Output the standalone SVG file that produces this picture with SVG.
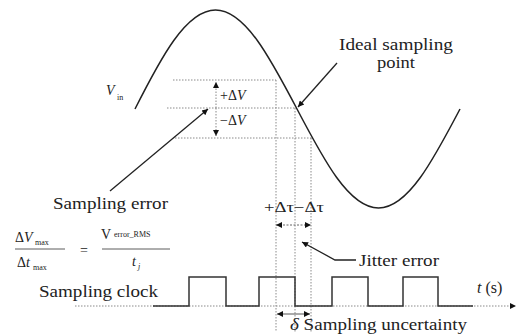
<svg xmlns="http://www.w3.org/2000/svg" width="522" height="334" viewBox="0 0 522 334">
<defs>
<style>
.t{font-family:"Liberation Serif","Times New Roman",serif;font-size:16px;fill:#222}
.m{font-family:"Liberation Serif","Times New Roman",serif;font-size:14px;fill:#222}
.s{font-family:"Liberation Serif","Times New Roman",serif;font-size:8px;fill:#222}
.i{font-style:italic}
.dash{stroke:#8a8a8a;stroke-width:1;stroke-dasharray:1.5 1.5;fill:none}
.ln{stroke:#222;stroke-width:1.3;fill:none}
</style>
<marker id="ah" viewBox="0 0 10 10" refX="10" refY="5" markerWidth="8" markerHeight="6" markerUnits="userSpaceOnUse" orient="auto-start-reverse">
<path d="M0,0 L10,5 L0,10 z" fill="#111"/>
</marker>
</defs>
<g id="guides">
<path class="dash" d="M173,80 H276 M167,108 H297 M175,138 H312"/>
<path class="dash" stroke="#aaa" d="M276,80 V332 M295,108 V332 M311,138 V332"/>
</g>
<g id="signal">
<path stroke="#222" stroke-width="1.5" fill="none" d="M135,109 C160.6,58.3 186,10 215.5,10 C245,10 270.4,58.3 297,109 C323.6,159.7 349,208 378.5,208 C408,208 433.4,159.7 460,109"/>
<text class="m i" x="106" y="95">V</text><text class="s" x="117" y="100">in</text>
</g>
<g id="connectors">
<line x1="216" y1="108" x2="216" y2="82" stroke="#888" stroke-width="1" stroke-dasharray="1.5 1.5" marker-end="url(#ah)"/>
<line x1="216" y1="108" x2="216" y2="136" stroke="#888" stroke-width="1" stroke-dasharray="1.5 1.5" marker-end="url(#ah)"/>
<line class="ln" x1="110" y1="191" x2="208" y2="109" marker-end="url(#ah)"/>
<line class="ln" x1="337" y1="63" x2="298" y2="107" marker-end="url(#ah)"/>
<polyline class="ln" points="356,260 335,260 302,242" marker-end="url(#ah)"/>
<line x1="276" y1="225" x2="311" y2="225" stroke="#666" stroke-width="1" stroke-dasharray="2 1.5" marker-start="url(#ah)" marker-end="url(#ah)"/>
<line x1="277" y1="314" x2="310" y2="314" stroke="#555" stroke-width="1" marker-start="url(#ah)" marker-end="url(#ah)"/>
<line x1="75" y1="306" x2="516" y2="306" class="dash" marker-end="url(#ah)"/>
</g>
<g id="deltaV">
<text class="m" x="220" y="100">+Δ<tspan class="i">V</tspan></text>
<text class="m" x="220" y="125">−Δ<tspan class="i">V</tspan></text>
</g>
<g id="ideal-label">
<text class="t" x="339" y="50" textLength="114" lengthAdjust="spacingAndGlyphs">Ideal sampling</text>
<text class="t" x="377" y="68" textLength="38" lengthAdjust="spacingAndGlyphs">point</text>
</g>
<g id="sampling-error">
<text class="t" x="53" y="209" textLength="115" lengthAdjust="spacingAndGlyphs">Sampling error</text>
</g>
<g id="formula">
<text class="m" x="15" y="242">Δ<tspan class="i">V</tspan></text><text class="s" x="35" y="245">max</text>
<line x1="15" y1="249" x2="65" y2="249" stroke="#333" stroke-width="0.8"/>
<text class="m" x="17" y="267">Δ<tspan class="i">t</tspan></text><text class="s" x="33" y="270">max</text>
<text class="m" x="80" y="255">=</text>
<text class="m" x="101" y="239">V</text><text class="s" x="114" y="237" font-size="7">error_RMS</text>
<line x1="102" y1="249" x2="170" y2="249" stroke="#333" stroke-width="0.8"/>
<text class="m i" x="132" y="266">t</text><text class="s i" x="138" y="269">j</text>
</g>
<g id="jitter">
<text class="m" x="264" y="212" textLength="60" lengthAdjust="spacingAndGlyphs">+Δτ−Δτ</text>
<text class="t" x="359" y="266" textLength="80" lengthAdjust="spacingAndGlyphs">Jitter error</text>
</g>
<g id="clock">
<text class="t" x="39" y="297" textLength="119" lengthAdjust="spacingAndGlyphs">Sampling clock</text>
<path stroke="#333" stroke-width="1.5" fill="none" d="M153,306 H189 V277 H226 V306 H259 V277 H295 V306 H332 V277 H368 V306 H403 V277 H438 V306 H473"/>
<text class="t" x="477" y="293"><tspan class="i">t</tspan> (s)</text>
</g>
<g id="uncertainty">
<text class="t" x="290" y="330" textLength="177" lengthAdjust="spacingAndGlyphs"><tspan class="i">δ</tspan> Sampling uncertainty</text>
</g>
</svg>
